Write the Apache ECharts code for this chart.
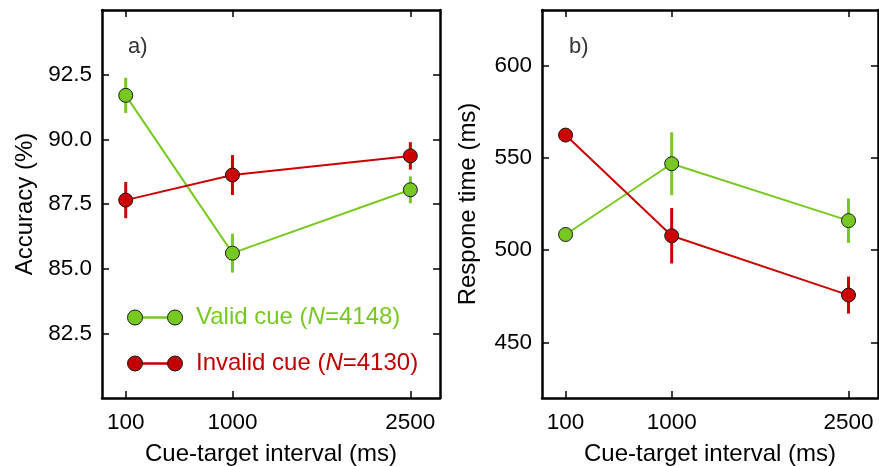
<!DOCTYPE html>
<html>
<head>
<meta charset="utf-8">
<script src="https://cdn.jsdelivr.net/npm/echarts@6/dist/echarts.min.js"></script>
<style>
html,body{margin:0;padding:0;background:#fff;}
#chart{width:879px;height:466px;}
</style>
</head>
<body>
<div id="chart"></div>
<script>
// ---- data ----
const intervals = [100, 1000, 2500];
const accValid = [91.7, 85.6, 88.05];
const accValidErr = [0.68, 0.75, 0.52];
const accInvalid = [87.65, 88.62, 89.36];
const accInvalidErr = [0.7, 0.77, 0.53];
const rtValid = [508.5, 546.8, 516];
const rtValidErr = [3, 17, 12];
const rtInvalid = [562.3, 507.8, 475.7];
const rtInvalidErr = [3, 15, 10];
const accTicks = [82.5, 85.0, 87.5, 90.0, 92.5];
const rtTicks = [450, 500, 550, 600];
const legendValid = {pre: 'Valid cue (', n: 'N', post: '=4148)'};
const legendInvalid = {pre: 'Invalid cue (', n: 'N', post: '=4130)'};
const panelLabels = ['a)', 'b)'];
const xTitle = 'Cue-target interval (ms)';
const yTitles = ['Accuracy (%)', 'Respone time (ms)'];

const GREEN = '#77c922';
const RED = '#cc0000';
const FONT = '"Liberation Sans", Arial, Helvetica, sans-serif';

function pairs(xs, ys, es) {
  return xs.map((x, i) => es ? [x, ys[i], es[i]] : [x, ys[i]]);
}

const chart = echarts.init(document.getElementById('chart'));

function xAxes(gridIndex) {
  const base = {
    type: 'value', gridIndex, min: -100, max: 2750,
    splitLine: {show: false},
    axisLine: {show: true, onZero: false, lineStyle: {color: '#000', width: 2.5}},
    axisTick: {show: true, inside: true, length: 7, customValues: intervals, lineStyle: {color: '#000', width: 1.5}}
  };
  return [
    Object.assign({}, base, {
      position: 'bottom',
      axisLabel: {show: true, customValues: intervals, margin: 13, color: '#000', fontSize: 22.5, fontFamily: FONT,
        formatter: v => String(v)},
      name: xTitle, nameLocation: 'middle', nameGap: 44,
      nameTextStyle: {color: '#000', fontSize: 24, fontFamily: FONT}
    }),
    Object.assign({}, base, {position: 'top', axisLabel: {show: false}})
  ];
}

function yAxes(gridIndex, min, max, ticks, title, gap) {
  const base = {
    type: 'value', gridIndex, min, max,
    splitLine: {show: false},
    axisLine: {show: true, onZero: false, lineStyle: {color: '#000', width: 2.5}},
    axisTick: {show: true, inside: true, length: 7, customValues: ticks, lineStyle: {color: '#000', width: 1.5}}
  };
  return [
    Object.assign({}, base, {
      position: 'left',
      axisLabel: {show: true, customValues: ticks, margin: 10, color: '#000', fontSize: 22.5, fontFamily: FONT,
        formatter: v => gridIndex === 0 ? v.toFixed(1) : String(v)},
      name: title, nameLocation: 'middle', nameGap: gap,
      nameTextStyle: {color: '#000', fontSize: 24, fontFamily: FONT}
    }),
    Object.assign({}, base, {position: 'right', axisLabel: {show: false}})
  ];
}

function errSeries(xi, yi, data, color) {
  return {
    type: 'custom', xAxisIndex: xi, yAxisIndex: yi, z: 1,
    data,
    renderItem: (params, api) => {
      const x = api.value(0), y = api.value(1), e = api.value(2);
      const p1 = api.coord([x, y - e]);
      const p2 = api.coord([x, y + e]);
      return {type: 'line', shape: {x1: p1[0], y1: p1[1], x2: p2[0], y2: p2[1]},
        style: {stroke: color, lineWidth: 3}};
    }
  };
}

function lineSeries(xi, yi, data, color) {
  return {
    type: 'line', xAxisIndex: xi, yAxisIndex: yi, z: 3,
    data, symbol: 'circle', symbolSize: 14,
    lineStyle: {color, width: 2},
    itemStyle: {color, borderColor: '#1a1a1a', borderWidth: 1},
    emphasis: {disabled: true}, animation: false
  };
}

function legendGraphic(y, color, txt) {
  return [
    {type: 'line', shape: {x1: 135, y1: y, x2: 175, y2: y}, style: {stroke: color, lineWidth: 2.5}, z: 10},
    {type: 'circle', shape: {cx: 135, cy: y, r: 7.5}, style: {fill: color, stroke: '#1a1a1a', lineWidth: 1}, z: 11},
    {type: 'circle', shape: {cx: 175, cy: y, r: 7.5}, style: {fill: color, stroke: '#1a1a1a', lineWidth: 1}, z: 11},
    {type: 'text', x: 196, y: y, z: 11, style: {
      text: '{n|' + txt.pre + '}{i|' + txt.n + '}{n|' + txt.post + '}',
      verticalAlign: 'middle', align: 'left',
      rich: {
        n: {fill: color, fontSize: 24, fontFamily: FONT},
        i: {fill: color, fontSize: 24, fontFamily: FONT, fontStyle: 'italic'}
      }
    }}
  ];
}

const option = {
  backgroundColor: '#fff',
  animation: false,
  grid: [
    {left: 102, top: 10, width: 338, height: 388, containLabel: false, outerBoundsMode: 'none'},
    {left: 542, top: 10, width: 336, height: 388, containLabel: false, outerBoundsMode: 'none'}
  ],
  xAxis: [...xAxes(0), ...xAxes(1)],
  yAxis: [...yAxes(0, 80, 95, accTicks, yTitles[0], 65), ...yAxes(1, 420, 630, rtTicks, yTitles[1], 62)],
  series: [
    errSeries(0, 0, pairs(intervals, accValid, accValidErr), GREEN),
    errSeries(0, 0, pairs(intervals, accInvalid, accInvalidErr), RED),
    lineSeries(0, 0, pairs(intervals, accValid), GREEN),
    lineSeries(0, 0, pairs(intervals, accInvalid), RED),
    errSeries(2, 2, pairs(intervals, rtValid, rtValidErr), GREEN),
    errSeries(2, 2, pairs(intervals, rtInvalid, rtInvalidErr), RED),
    lineSeries(2, 2, pairs(intervals, rtValid), GREEN),
    lineSeries(2, 2, pairs(intervals, rtInvalid), RED)
  ],
  graphic: [
    {type: 'text', x: 128, y: 47, style: {text: panelLabels[0], fill: '#333', fontSize: 22, fontFamily: FONT, verticalAlign: 'middle'}},
    {type: 'text', x: 569, y: 47, style: {text: panelLabels[1], fill: '#333', fontSize: 22, fontFamily: FONT, verticalAlign: 'middle'}},
    ...legendGraphic(317.5, GREEN, legendValid),
    ...legendGraphic(363.5, '#c00000', legendInvalid)
  ]
};
chart.setOption(option);
</script>
</body>
</html>
